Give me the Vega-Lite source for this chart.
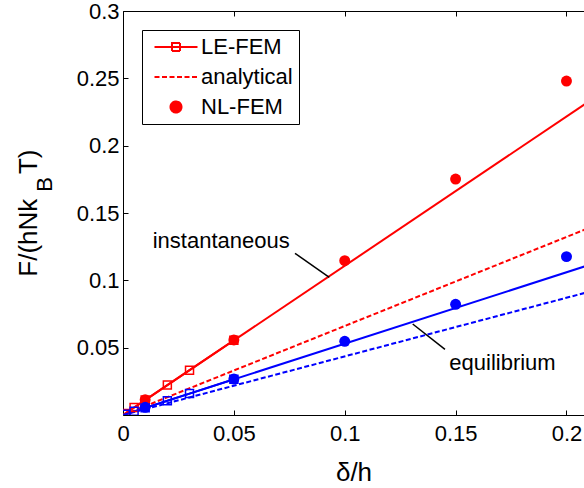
{
  "$schema": "https://vega.github.io/schema/vega-lite/v6.json",
  "autosize": {"type": "none"},
  "padding": {"left": 123, "top": 11, "right": 0, "bottom": 73},
  "width": 461,
  "height": 404,
  "background": "white",
  "resolve": {"axis": {"x": "independent", "y": "independent"}},
  "datasets": {
    "fit": [
      {"x": 0, "y": 0, "group": "instantaneous"},
      {"x": 0.21, "y": 0.2327, "group": "instantaneous"},
      {"x": 0, "y": 0, "group": "equilibrium"},
      {"x": 0.21, "y": 0.1113, "group": "equilibrium"}
    ],
    "analytical": [
      {"x": 0, "y": 0, "group": "instantaneous"},
      {"x": 0.21, "y": 0.1388, "group": "instantaneous"},
      {"x": 0, "y": 0, "group": "equilibrium"},
      {"x": 0.21, "y": 0.0914, "group": "equilibrium"}
    ],
    "lefem": [
      {"x": 0.001, "y": 0.0011, "group": "instantaneous"},
      {"x": 0.005, "y": 0.0056, "group": "instantaneous"},
      {"x": 0.01, "y": 0.0111, "group": "instantaneous"},
      {"x": 0.02, "y": 0.0222, "group": "instantaneous"},
      {"x": 0.03, "y": 0.0333, "group": "instantaneous"},
      {"x": 0.05, "y": 0.0555, "group": "instantaneous"},
      {"x": 0.001, "y": 0.0005, "group": "equilibrium"},
      {"x": 0.005, "y": 0.0027, "group": "equilibrium"},
      {"x": 0.01, "y": 0.0053, "group": "equilibrium"},
      {"x": 0.02, "y": 0.0106, "group": "equilibrium"},
      {"x": 0.03, "y": 0.0159, "group": "equilibrium"},
      {"x": 0.05, "y": 0.0265, "group": "equilibrium"}
    ],
    "nlfem": [
      {"x": 0.01, "y": 0.0113, "group": "instantaneous"},
      {"x": 0.05, "y": 0.0557, "group": "instantaneous"},
      {"x": 0.1, "y": 0.1146, "group": "instantaneous"},
      {"x": 0.15, "y": 0.1752, "group": "instantaneous"},
      {"x": 0.2, "y": 0.248, "group": "instantaneous"},
      {"x": 0.01, "y": 0.0057, "group": "equilibrium"},
      {"x": 0.05, "y": 0.0267, "group": "equilibrium"},
      {"x": 0.1, "y": 0.0547, "group": "equilibrium"},
      {"x": 0.15, "y": 0.0822, "group": "equilibrium"},
      {"x": 0.2, "y": 0.1176, "group": "equilibrium"}
    ],
    "legendItems": [
      {"series": "LE-FEM"},
      {"series": "analytical"},
      {"series": "NL-FEM"}
    ]
  },
  "layer": [
    {
      "data": {"name": "fit"},
      "mark": {"type": "line", "strokeWidth": 2, "clip": true},
      "encoding": {
        "x": {"field": "x", "type": "quantitative", "scale": {"domain": [0, 0.2079], "nice": false, "zero": false},
              "axis": {"orient": "bottom", "values": [0, 0.05, 0.1, 0.15, 0.2], "format": "~g", "title": "δ/h", "labelPadding": 13, "titlePadding": 15}},
        "y": {"field": "y", "type": "quantitative", "scale": {"domain": [0, 0.3], "nice": false, "zero": false},
              "axis": {"orient": "left", "values": [0.05, 0.1, 0.15, 0.2, 0.25, 0.3], "format": "~g", "title": null, "labelPadding": 9, "domain": true, "ticks": true, "labels": true}},
        "color": {"field": "group", "type": "nominal", "scale": {"domain": ["instantaneous", "equilibrium"], "range": ["#ff0000", "#0000ff"]}, "legend": null},
        "detail": {"field": "group"}
      }
    },
    {
      "data": {"name": "analytical"},
      "mark": {"type": "line", "strokeWidth": 2, "strokeDash": [5, 2.5], "clip": true},
      "encoding": {
        "x": {"field": "x", "type": "quantitative", "axis": {"orient": "top", "values": [0, 0.05, 0.1, 0.15, 0.2], "labels": false, "title": null}},
        "y": {"field": "y", "type": "quantitative", "axis": null},
        "color": {"field": "group", "type": "nominal", "legend": null},
        "detail": {"field": "group"}
      }
    },
    {
      "data": {"name": "lefem"},
      "mark": {"type": "line", "strokeWidth": 2, "clip": true,
               "point": {"shape": "square", "filled": false, "size": 64, "strokeWidth": 1.5}},
      "encoding": {
        "x": {"field": "x", "type": "quantitative", "axis": null},
        "y": {"field": "y", "type": "quantitative", "axis": null},
        "color": {"field": "group", "type": "nominal", "legend": null},
        "detail": {"field": "group"}
      }
    },
    {
      "data": {"name": "nlfem"},
      "mark": {"type": "circle", "size": 120, "opacity": 1, "clip": true},
      "encoding": {
        "x": {"field": "x", "type": "quantitative", "axis": null},
        "y": {"field": "y", "type": "quantitative", "axis": null},
        "color": {"field": "group", "type": "nominal", "legend": null}
      }
    },
    {
      "data": {"name": "legendItems"},
      "mark": {"type": "point", "clip": true, "strokeWidth": 2, "opacity": 1},
      "encoding": {
        "x": {"datum": -1, "type": "quantitative", "axis": null},
        "y": {"datum": -1, "type": "quantitative", "axis": null},
        "shape": {"field": "series", "type": "nominal",
                  "scale": {"domain": ["LE-FEM", "analytical", "NL-FEM"],
                            "range": ["M-2.15,0H2.15M-0.4,-0.4H0.4V0.4H-0.4Z", "M-2.15,0H2.15", "M0.55,0A0.55,0.55,0,1,1,-0.55,0A0.55,0.55,0,1,1,0.55,0Z"]},
                  "legend": {"title": null, "orient": "top-left", "offset": 19, "padding": 6, "symbolSize": 400,
                             "symbolOffset": 17, "labelOffset": 14, "labelFontSize": 22, "labelFont": "Liberation Sans",
                             "labelColor": "black", "strokeColor": "black", "fillColor": "white", "rowPadding": 8,
                             "symbolStrokeWidth": 2, "cornerRadius": 0, "labelLimit": 0}},
        "stroke": {"field": "series", "type": "nominal",
                   "scale": {"domain": ["LE-FEM", "analytical", "NL-FEM"], "range": ["#ff0000", "#ff0000", "#ff0000"]},
                   "legend": {"title": null}},
        "strokeDash": {"field": "series", "type": "nominal",
                       "scale": {"domain": ["LE-FEM", "analytical", "NL-FEM"], "range": [[1, 0], [5, 2.5], [1, 0]]},
                       "legend": {"title": null}},
        "fill": {"field": "series", "type": "nominal",
                 "scale": {"domain": ["LE-FEM", "analytical", "NL-FEM"], "range": ["transparent", "transparent", "#ff0000"]},
                 "legend": {"title": null}}
      }
    },
    {
      "data": {"values": [{"label": "instantaneous"}]},
      "mark": {"type": "text", "align": "left", "baseline": "alphabetic", "fontSize": 22, "font": "Liberation Sans", "color": "black"},
      "encoding": {
        "x": {"datum": 0.01339, "type": "quantitative", "axis": null},
        "y": {"datum": 0.1242, "type": "quantitative", "axis": null},
        "text": {"field": "label"}
      }
    },
    {
      "data": {"values": [{"label": "equilibrium"}]},
      "mark": {"type": "text", "align": "left", "baseline": "alphabetic", "fontSize": 22, "font": "Liberation Sans", "color": "black"},
      "encoding": {
        "x": {"datum": 0.14715, "type": "quantitative", "axis": null},
        "y": {"datum": 0.0334, "type": "quantitative", "axis": null},
        "text": {"field": "label"}
      }
    },
    {
      "data": {"values": [{"label": "instantaneous"}]},
      "mark": {"type": "rule", "color": "black", "strokeWidth": 1.5},
      "encoding": {
        "x": {"datum": 0.07757, "type": "quantitative", "axis": null},
        "y": {"datum": 0.12007, "type": "quantitative", "axis": null},
        "x2": {"datum": 0.09304},
        "y2": {"datum": 0.10225}
      }
    },
    {
      "data": {"values": [{"label": "equilibrium"}]},
      "mark": {"type": "rule", "color": "black", "strokeWidth": 1.5},
      "encoding": {
        "x": {"datum": 0.13065, "type": "quantitative", "axis": null},
        "y": {"datum": 0.06757, "type": "quantitative", "axis": null},
        "x2": {"datum": 0.14521},
        "y2": {"datum": 0.04879}
      }
    },
    {
      "data": {"values": [{"label": "F/(hNk"}]},
      "mark": {"type": "text", "align": "left", "baseline": "alphabetic", "angle": 270, "fontSize": 26, "font": "Liberation Sans", "color": "black"},
      "encoding": {
        "x": {"datum": -0.03892, "type": "quantitative", "axis": null},
        "y": {"datum": 0.1027, "type": "quantitative", "axis": null},
        "text": {"field": "label"}
      }
    },
    {
      "data": {"values": [{"label": "B"}]},
      "mark": {"type": "text", "align": "left", "baseline": "alphabetic", "angle": 270, "fontSize": 22, "font": "Liberation Sans", "color": "black"},
      "encoding": {
        "x": {"datum": -0.03216, "type": "quantitative", "axis": null},
        "y": {"datum": 0.1658, "type": "quantitative", "axis": null},
        "text": {"field": "label"}
      }
    },
    {
      "data": {"values": [{"label": "T)"}]},
      "mark": {"type": "text", "align": "left", "baseline": "alphabetic", "angle": 270, "fontSize": 26, "font": "Liberation Sans", "color": "black"},
      "encoding": {
        "x": {"datum": -0.03892, "type": "quantitative", "axis": null},
        "y": {"datum": 0.1789, "type": "quantitative", "axis": null},
        "text": {"field": "label"}
      }
    }
  ],
  "config": {
    "view": {"stroke": null},
    "font": "Liberation Sans",
    "axis": {
      "labelFont": "Liberation Sans", "labelFontSize": 22, "labelColor": "black",
      "domainColor": "black", "domainWidth": 1, "tickColor": "black", "tickWidth": 1, "tickSize": -5,
      "grid": false, "titleFont": "Liberation Sans", "titleFontSize": 26, "titleColor": "black",
      "titleFontWeight": "normal", "labelFlush": false, "labelOverlap": false
    }
  }
}
